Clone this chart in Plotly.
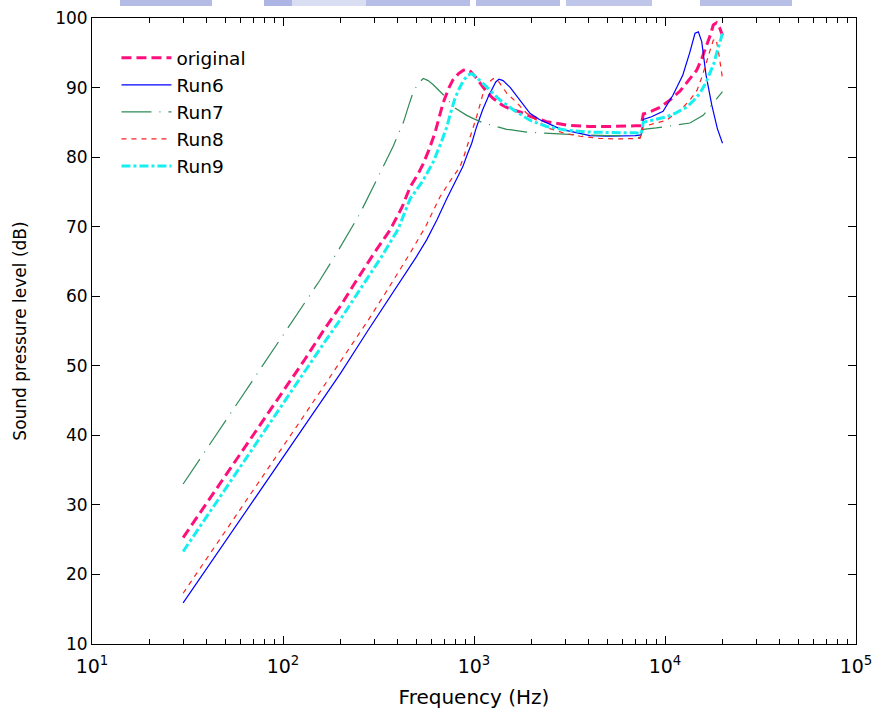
import plotly.graph_objects as go

# Sound pressure level vs frequency for the original design and four runs
freq_orig = [30, 40, 50, 65, 80, 100, 130, 166, 200, 243, 300, 363, 420, 463, 510, 541, 580, 625,
             689, 740, 776, 830, 880, 916, 960, 1020, 1075, 1163, 1250, 1400, 1550, 1742, 2000, 2400,
             3055, 4000, 5000, 6000, 7000, 7500, 7700, 8500, 9500, 10600, 12000, 13000, 14660, 15500,
             16500, 17300, 17900, 18600, 19300, 20000]
spl_orig = [25.3, 30.3, 34.2, 38.8, 42.4, 46.3, 50.9, 55.4, 58.6, 62.3, 66.2, 69.5, 72.8, 75.7, 77.6,
            79.0, 81.0, 83.5, 87.8, 90.0, 91.1, 92.0, 92.5, 92.6, 92.3, 91.5, 90.6, 89.4, 88.5, 87.5,
            86.9, 86.5, 85.8, 85.1, 84.6, 84.4, 84.4, 84.5, 84.5, 84.5, 86.2, 86.6, 87.2, 88.2, 89.5,
            90.7, 92.5, 94.0, 95.9, 97.6, 99.0, 99.3, 98.6, 97.5]

freq_run6 = [30, 40, 50, 65, 80, 100, 130, 166, 200, 279, 350, 420, 500, 565, 640, 720, 800, 845, 873,
             920, 973, 1030, 1110, 1189, 1250, 1300, 1352, 1420, 1550, 1742, 1963, 2200, 2410, 2750,
             3070, 3590, 4050, 5000, 6000, 7000, 7500, 7700, 8500, 9770, 11000, 12400, 13500, 14360,
             14950, 15570, 16400, 17570, 18800, 20000]
spl_run6 = [15.9, 20.9, 24.8, 29.4, 33.0, 36.9, 41.4, 45.7, 48.9, 55.1, 59.2, 62.5, 65.7, 68.1, 71.0,
            74.0, 76.6, 77.8, 78.6, 80.3, 82.0, 84.3, 86.8, 88.7, 90.0, 90.8, 91.2, 91.0, 90.0, 88.2,
            86.3, 85.4, 84.9, 84.2, 83.8, 83.4, 83.1, 83.0, 83.0, 83.1, 83.2, 85.4, 85.8, 86.6, 88.9,
            91.8, 95.1, 97.8, 98.0, 96.6, 91.8, 87.5, 84.1, 82.0]

freq_run7 = [30, 40, 50, 65, 80, 100, 130, 156, 191, 253, 322, 378, 410, 427, 455, 481, 510, 543, 575,
             612, 660, 719, 780, 860, 916, 1000, 1119, 1312, 1483, 1888, 2404, 3450, 5000, 6500, 7400,
             7700, 9000, 11000, 13500, 15850, 17900, 20000]
spl_run7 = [33.0, 38.1, 42.0, 46.7, 50.3, 54.3, 59.0, 62.3, 66.2, 71.9, 77.7, 81.6, 83.9, 85.0, 87.4,
            89.4, 90.6, 91.3, 91.0, 90.4, 89.5, 88.5, 87.2, 86.5, 86.0, 85.5, 84.9, 84.4, 84.0, 83.6,
            83.4, 83.2, 83.1, 83.1, 82.8, 84.0, 84.2, 84.5, 84.9, 86.0, 87.7, 89.4]

freq_run8 = [30, 40, 50, 65, 80, 100, 130, 166, 200, 280, 350, 400, 463, 560, 664, 760, 845, 890, 934,
             985, 1032, 1117, 1180, 1262, 1350, 1483, 1650, 1888, 2200, 2500, 3000, 3600, 4500, 5500,
             6500, 7400, 7700, 8800, 10200, 11200, 12470, 13500, 14700, 15600, 16500, 17200, 17900,
             18500, 19100, 19600, 20000]
spl_run8 = [17.3, 22.3, 26.3, 30.9, 34.5, 38.4, 43.0, 47.3, 50.6, 56.6, 60.8, 63.3, 66.2, 70.1, 74.3,
            76.8, 78.6, 80.3, 82.0, 84.0, 85.8, 89.2, 90.6, 91.3, 90.8, 89.2, 88.0, 86.3, 85.0, 84.1,
            83.4, 83.0, 82.7, 82.6, 82.6, 82.7, 84.4, 84.8, 85.3, 86.2, 87.2, 88.2, 89.6, 91.5, 93.5,
            95.3, 96.8, 97.0, 95.0, 92.7, 91.3]

freq_run9 = [30, 40, 50, 65, 80, 100, 130, 166, 199, 240, 274, 330, 400, 463, 540, 612, 677, 720, 748,
             790, 828, 880, 930, 973, 1030, 1143, 1250, 1368, 1606, 1963, 2400, 3000, 4000, 5000, 6000,
             7000, 7500, 7700, 8500, 10200, 11500, 13000, 14200, 15240, 16300, 17200, 18000, 18620,
             19300, 20000]
spl_run9 = [23.3, 28.4, 32.3, 36.9, 40.6, 44.5, 49.2, 53.5, 56.6, 60.0, 62.3, 65.8, 69.6, 74.0, 76.6,
            79.3, 82.3, 84.3, 86.0, 88.2, 89.6, 91.0, 91.8, 92.0, 91.5, 90.3, 89.2, 88.2, 86.8, 85.3,
            84.4, 83.9, 83.6, 83.5, 83.5, 83.5, 83.4, 85.0, 85.3, 85.8, 86.4, 87.2, 88.2, 89.2, 90.6,
            92.0, 93.4, 94.9, 96.3, 97.8]

series = [
    ("original", freq_orig, spl_orig, dict(color="#FF0F7B", width=3, dash="10px,5px")),
    ("Run6", freq_run6, spl_run6, dict(color="#0000FF", width=1.2, dash="solid")),
    ("Run7", freq_run7, spl_run7, dict(color="#2E8B57", width=1.2, dash="30px,8px,1px,8px")),
    ("Run8", freq_run8, spl_run8, dict(color="#FF2020", width=1.2, dash="5px,5px")),
    ("Run9", freq_run9, spl_run9, dict(color="#14F0F0", width=3, dash="9px,3px,3px,3px")),
]

font_family = "DejaVu Sans"

fig = go.Figure()
for name, f, spl, line in series:
    fig.add_trace(go.Scatter(x=f, y=spl, name=name, mode="lines", line=line))

decades = [10, 100, 1000, 10000, 100000]
minor_vals = [m * d for d in decades[:-1] for m in range(2, 10)]

fig.update_xaxes(
    type="log", range=[1, 5], automargin=False,
    tickmode="array", tickvals=decades,
    ticktext=["10<sup>1</sup>", "10<sup>2</sup>", "10<sup>3</sup>", "10<sup>4</sup>", "10<sup>5</sup>"],
    ticks="inside", ticklen=8, tickwidth=1, tickcolor="black", ticklabelstandoff=5,
    minor=dict(tickmode="array", tickvals=minor_vals, ticks="inside", ticklen=5,
               tickwidth=1, tickcolor="black", showgrid=False),
    showline=True, linecolor="black", linewidth=1, mirror="ticks",
    showgrid=False, zeroline=False,
    tickfont=dict(family=font_family, size=19, color="black"),
    title=dict(text="Frequency (Hz)", font=dict(family=font_family, size=20, color="black"),
               standoff=14),
)
fig.update_yaxes(
    range=[10, 100], tickmode="linear", tick0=10, dtick=10, automargin=False,
    ticks="inside", ticklen=8, tickwidth=1, tickcolor="black",
    showline=True, linecolor="black", linewidth=1, mirror="ticks",
    showgrid=False, zeroline=False,
    tickfont=dict(family=font_family, size=17, color="black"),
    title=dict(text="Sound pressure level (dB)", font=dict(family=font_family, size=17, color="black"),
               standoff=24),
)

# faint banner strips along the top edge of the page (pixel spans across the page width)
banner = [(120, 212, "#A7B0E0", 0.85), (264, 292, "#A3ADE0", 0.9), (292, 366, "#C9D0EE", 0.7),
          (366, 470, "#A9B2E2", 0.85), (476, 560, "#AAB3E2", 0.85), (566, 652, "#B0B8E4", 0.8),
          (700, 792, "#ABB4E3", 0.85)]
for px0, px1, col, op in banner:
    fig.add_shape(type="rect", xref="paper", yref="paper", x0=(px0 - 92) / 764,
                  x1=(px1 - 92) / 764, y0=1 + 12 / 626, y1=1 + 18 / 626,
                  fillcolor=col, line=dict(width=0), layer="above", opacity=op)

fig.update_layout(
    width=875, height=717,
    margin=dict(l=92, r=19, t=18, b=73),
    plot_bgcolor="white", paper_bgcolor="white",
    font=dict(family=font_family, color="black"),
    showlegend=True,
    legend=dict(x=0.032, y=0.966, xanchor="left", yanchor="top",
                bgcolor="rgba(0,0,0,0)", borderwidth=0, itemwidth=50,
                font=dict(family=font_family, size=18.5, color="black")),
)

fig.write_html("out.html")
